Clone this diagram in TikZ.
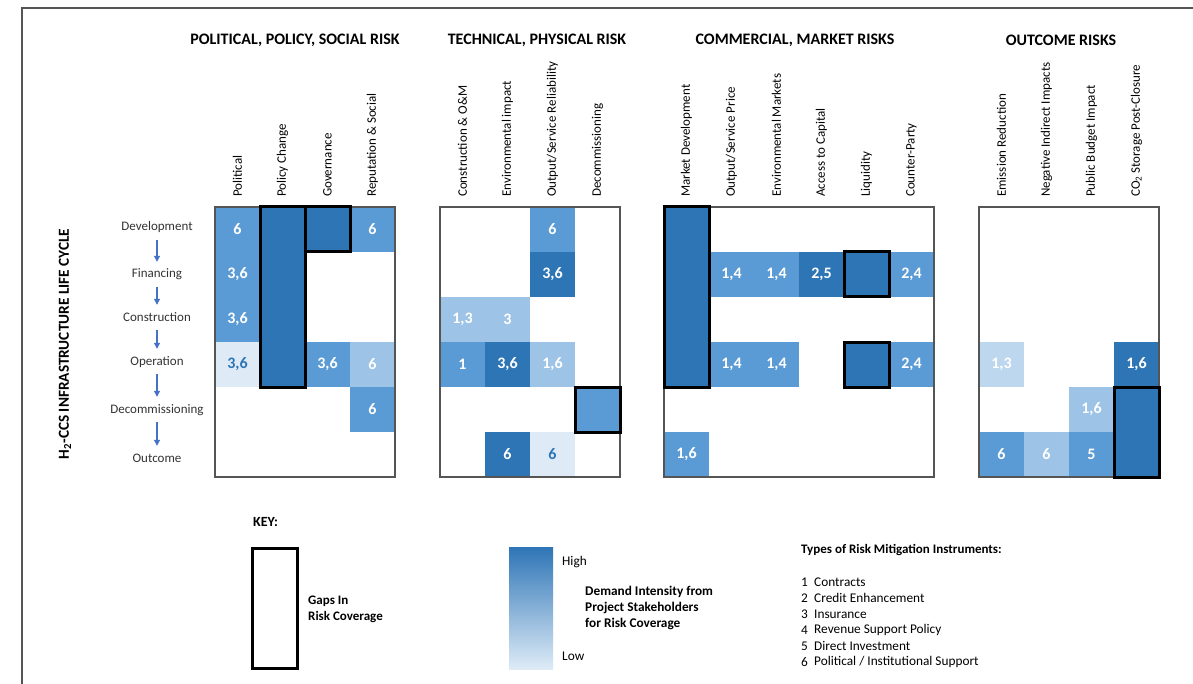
\documentclass[tikz,border=0pt]{standalone}
\usepackage{fontspec}
\setmainfont{Carlito}
\usetikzlibrary{arrows.meta}
\definecolor{dk}{HTML}{2E75B6}
\definecolor{md}{HTML}{5B9BD5}
\definecolor{lt}{HTML}{9DC3E6}
\definecolor{ltb}{HTML}{BDD7EE}
\definecolor{vl}{HTML}{DEEBF7}
\definecolor{framegray}{HTML}{555555}
\definecolor{arrowblue}{HTML}{4472C4}
\definecolor{txtgray}{HTML}{333333}
\tikzset{
  cell/.style={minimum width=45pt, minimum height=45pt, inner sep=0pt, outer sep=0pt, draw=none, text=white, font=\bfseries\fontsize{16}{16}\selectfont},
  gapbox/.style={cell, draw=black, line width=3pt},
  panel/.style={draw=framegray, line width=1.2pt},
  coltitle/.style={font=\bfseries\fontsize{16}{18}\selectfont, inner sep=0pt},
  collabel/.style={rotate=90, anchor=west, inner sep=0pt, font=\fontsize{13}{15}\selectfont},
  rowlabel/.style={inner sep=0pt, text height=9pt, text depth=3pt, text=txtgray, font=\fontsize{13}{15}\selectfont},
  lifearrow/.style={draw=arrowblue, line width=1.1pt, -{Triangle[width=6pt,length=6pt]}, shorten <=6pt, shorten >=7pt},
  keytext/.style={anchor=west, inner sep=0pt, font=\fontsize{13.3}{16}\selectfont},
}
\begin{document}
\begin{tikzpicture}[x=1pt,y=-1pt]
\useasboundingbox (0,0) rectangle (1193,684);
\fill[white] (0,0) rectangle (1193,684);
% outer frame
\draw[draw=framegray, line width=2pt] (22,684) -- (22,8) -- (1193,8);

% group titles
\node[coltitle] (t1) at (295,40) {POLITICAL, POLICY, SOCIAL RISK};
\node[coltitle] (t2) at (537,40) {TECHNICAL, PHYSICAL RISK};
\node[coltitle] (t3) at (795,40) {COMMERCIAL, MARKET RISKS};
\node[coltitle] (t4) at (1061,40) {OUTCOME RISKS};

% column labels
\node[collabel] (c11) at (237.5,197) {Political};
\node[collabel] (c12) at (282.5,197) {Policy Change};
\node[collabel] (c13) at (327.5,197) {Governance};
\node[collabel] (c14) at (372.5,197) {Reputation \& Social};
\node[collabel] (c21) at (462.5,197) {Construction \& O\&M};
\node[collabel] (c22) at (507.5,197) {Environmental impact};
\node[collabel] (c23) at (552.5,197) {Output/Service Reliability};
\node[collabel] (c24) at (597.5,197) {Decommissioning};
\node[collabel] (c31) at (686.5,197) {Market Development};
\node[collabel] (c32) at (731.5,197) {Output/Service Price};
\node[collabel] (c33) at (776.5,197) {Environmental Markets};
\node[collabel] (c34) at (821.5,197) {Access to Capital};
\node[collabel] (c35) at (866.5,197) {Liquidity};
\node[collabel] (c36) at (911.5,197) {Counter-Party};
\node[collabel] (c41) at (1001.5,197) {Emission Reduction};
\node[collabel] (c42) at (1046.5,197) {Negative Indirect Impacts};
\node[collabel] (c43) at (1091.5,197) {Public Budget Impact};
\node[collabel] (c44) at (1136.5,197) {CO\textsubscript{2} Storage Post-Closure};

% life cycle
\node[rotate=90, inner sep=0pt, font=\bfseries\fontsize{15.3}{16}\selectfont] (lc) at (65,344) {H\textsubscript{2}-CCS INFRASTRUCTURE LIFE CYCLE};
\node[rowlabel] (dev) at (157,228) {Development};
\node[rowlabel] (fin) at (157,275) {Financing};
\node[rowlabel] (con) at (157,318) {Construction};
\node[rowlabel] (ope) at (157,362) {Operation};
\node[rowlabel] (dec) at (157,410) {Decommissioning};
\node[rowlabel] (out) at (157,459) {Outcome};
\draw[lifearrow] (dev) -- (fin);
\draw[lifearrow] (fin) -- (con);
\draw[lifearrow] (con) -- (ope);
\draw[lifearrow] (ope) -- (dec);
\draw[lifearrow] (dec) -- (out);

% Panel 1 cells
\node[cell, fill=md] (p1a) at (237.5,229.5) {6};
\node[cell, fill=md] (p1b) at (237.5,274.5) {3,6};
\node[cell, fill=md] (p1c) at (237.5,319.5) {3,6};
\node[cell, fill=vl, text=dk] (p1d) at (237.5,364.5) {3,6};
\node[cell, fill=md] (p1e) at (372.5,229.5) {6};
\node[cell, fill=md] (p1f) at (327.5,364.5) {3,6};
\node[cell, fill=lt] (p1g) at (372.5,364.5) {6};
\node[cell, fill=md] (p1h) at (372.5,409.5) {6};

% Panel 2 cells
\node[cell, fill=md] (p2a) at (552.5,229.5) {6};
\node[cell, fill=dk] (p2b) at (552.5,274.5) {3,6};
\node[cell, fill=lt] (p2c) at (462.5,319.5) {1,3};
\node[cell, fill=lt] (p2d) at (507.5,319.5) {3};
\node[cell, fill=md] (p2e) at (462.5,364.5) {1};
\node[cell, fill=dk] (p2f) at (507.5,364.5) {3,6};
\node[cell, fill=lt] (p2g) at (552.5,364.5) {1,6};
\node[cell, fill=dk] (p2h) at (507.5,454.5) {6};
\node[cell, fill=vl, text=dk] (p2i) at (552.5,454.5) {6};

% Panel 3 cells
\node[cell, fill=md] (p3a) at (731.5,274.5) {1,4};
\node[cell, fill=md] (p3b) at (776.5,274.5) {1,4};
\node[cell, fill=dk] (p3c) at (821.5,274.5) {2,5};
\node[cell, fill=md] (p3d) at (911.5,274.5) {2,4};
\node[cell, fill=md] (p3e) at (731.5,364.5) {1,4};
\node[cell, fill=md] (p3f) at (776.5,364.5) {1,4};
\node[cell, fill=md] (p3g) at (911.5,364.5) {2,4};
\node[cell, fill=md] (p3h) at (686.5,454.5) {1,6};

% Panel 4 cells
\node[cell, fill=ltb] (p4a) at (1001.5,364.5) {1,3};
\node[cell, fill=dk] (p4b) at (1136.5,364.5) {1,6};
\node[cell, fill=lt] (p4c) at (1091.5,409.5) {1,6};
\node[cell, fill=md] (p4d) at (1001.5,454.5) {6};
\node[cell, fill=lt] (p4e) at (1046.5,454.5) {6};
\node[cell, fill=md] (p4f) at (1091.5,454.5) {5};

% panel frames
\draw[panel] (215,207) rectangle (395,477);
\draw[panel] (440,207) rectangle (620,477);
\draw[panel] (664,207) rectangle (934,477);
\draw[panel] (979,207) rectangle (1159,477);

% gaps
\node[gapbox, fill=dk, minimum height=180pt] (g1) at (282.5,297) {};
\node[gapbox, fill=dk] (g2) at (327.5,229.5) {};
\node[gapbox, fill=md] (g3) at (597.5,409.5) {};
\node[gapbox, fill=dk, minimum height=180pt] (g4) at (686.5,297) {};
\node[gapbox, fill=dk] (g5) at (866.5,274.5) {};
\node[gapbox, fill=dk] (g6) at (866.5,364.5) {};
\node[gapbox, fill=dk, minimum height=90pt] (g7) at (1136.5,432) {};

% key
\node[keytext, font=\bfseries\fontsize{14}{16}\selectfont] (key) at (253,522) {KEY:};
\node[draw=black, line width=3pt, minimum width=45pt, minimum height=120pt, inner sep=0pt] (kgap) at (275,608) {};
\node[keytext, align=left, font=\bfseries\fontsize{13}{16}\selectfont] (kgapt) at (308,609) {Gaps In\\Risk Coverage};
\shade[top color=dk, bottom color=vl] (509,547) rectangle (553,669);
\node[keytext] (khigh) at (562,562) {High};
\node[keytext] (klow) at (562,656) {Low};
\node[keytext, align=left, font=\bfseries\fontsize{13.3}{16}\selectfont] (kdem) at (585,608) {Demand Intensity from\\Project Stakeholders\\for Risk Coverage};
\node[keytext, font=\bfseries\fontsize{13}{16}\selectfont] (ktypes) at (801,550) {Types of Risk Mitigation Instruments:};
\node[keytext] (n1) at (801,582) {1}; \node[keytext] (i1) at (814,582) {Contracts};
\node[keytext] (n2) at (801,598) {2}; \node[keytext] (i2) at (814,598) {Credit Enhancement};
\node[keytext] (n3) at (801,614) {3}; \node[keytext] (i3) at (814,614) {Insurance};
\node[keytext] (n4) at (801,630) {4}; \node[keytext] (i4) at (814,630) {Revenue Support Policy};
\node[keytext] (n5) at (801,646) {5}; \node[keytext] (i5) at (814,646) {Direct Investment};
\node[keytext] (n6) at (801,662) {6}; \node[keytext] (i6) at (814,662) {Political / Institutional Support};
\end{tikzpicture}
\end{document}
